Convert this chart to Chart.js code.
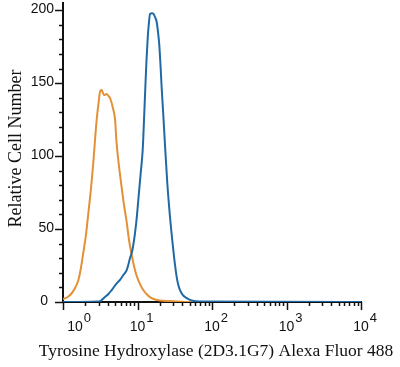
<!DOCTYPE html>
<html>
<head>
<meta charset="utf-8">
<script src="https://cdn.jsdelivr.net/npm/chart.js@4"></script>
<style>
  html, body { margin: 0; padding: 0; background: #fff; }
  canvas { display: block; }
</style>
</head>
<body>
<canvas id="chart" width="400" height="367"></canvas>
<script>
// fluorescence (x) and counts (y)
const blueX = [1, 2.86, 3.24, 3.66, 4.08, 4.5, 5.26, 5.82, 6.45, 7.16, 7.52, 7.93, 8.36, 8.78, 9.26, 9.76,
  10.25, 11.04, 11.74, 12.23, 12.73, 13.21, 13.71, 14.27, 14.72, 15.65, 16.4, 17.18, 18.1, 18.85, 19.61,
  20.35, 21.12, 22.2, 23.39, 25.11, 27.31, 30.24, 31.87, 33.59, 35.3, 37.2, 40.18, 43.41, 47.62, 53.4, 69, 10000];
const blueY = [0, 0.3, 1, 3.4, 5.5, 8.2, 12.8, 15.1, 18.5, 21.9, 25.4, 30.2, 33.6, 39.1, 47.3, 57.6,
  69.9, 88.4, 104.2, 124.8, 146.7, 165.9, 181, 192, 197.5, 197.9, 197.5, 195.4, 192, 185.1, 176.2,
  162.5, 146.7, 128.2, 107.6, 81.6, 58.3, 35.7, 25.4, 17.1, 11.7, 8.2, 5.1, 3.4, 2.1, 1, 0.3, 0];

const orangeX = [1, 1.13, 1.31, 1.45, 1.61, 1.74, 1.87, 2.04, 2.19, 2.38, 2.55, 2.69, 2.83, 3.0, 3.14, 3.31,
  3.44, 3.55, 3.86, 4.08, 4.27, 4.73, 5.0, 5.22, 5.52, 6.14, 6.59, 7.16, 7.69, 8.36, 8.97, 9.76,
  10.8, 11.96, 13.4, 14.7, 17.2, 20, 27.3, 50.7, 10000];
const orangeY = [2.1, 3.1, 6, 9.6, 15.1, 23.3, 33.6, 46.6, 61, 78.2, 95.3, 111.1, 124.8, 136.4, 144.2, 145.4,
  143.3, 141.9, 142.6, 141.2, 139.9, 132, 125, 110, 97.4, 78.2, 66.5, 54.8, 42.5, 32.2, 24.7, 17.8,
  12.3, 8.2, 5.1, 3.4, 1.7, 1, 0.7, 0, 0];

const yTickValues = [0, 50, 100, 150, 200];
const xDecades = [0, 1, 2, 3, 4];

const xTitle = 'Tyrosine Hydroxylase (2D3.1G7) Alexa Fluor 488';
const yTitle = 'Relative Cell Number';

const toPoints = (xs, ys) => xs.map((v, i) => ({ x: v, y: ys[i] }));

// tick marks, labels (10 with exponent) and axis titles, placed from the scales
const axisMarks = {
  id: 'axisMarks',
  afterDraw(chart) {
    const { ctx, scales: { x, y } } = chart;
    ctx.save();
    ctx.strokeStyle = '#111';
    ctx.fillStyle = '#111';
    ctx.lineWidth = 1.5;

    // y ticks, minor every 10
    for (let v = 0; v <= 200; v += 10) {
      const py = Math.round(y.getPixelForValue(v)) + 0.5;
      const len = v % 50 === 0 ? 8 : 4;
      ctx.beginPath();
      ctx.moveTo(x.left - len, py);
      ctx.lineTo(x.left, py);
      ctx.stroke();
    }
    ctx.font = '14px "Liberation Sans", Arial, sans-serif';
    ctx.textAlign = 'right';
    ctx.textBaseline = 'middle';
    yTickValues.forEach(v => {
      const py = y.getPixelForValue(v);
      ctx.fillText(String(v), v === 0 ? x.left - 15 : x.left - 9, py - 1);
    });

    // x ticks, log decades with 2..9 minor
    xDecades.forEach(d => {
      for (let m = 1; m <= 9; m++) {
        if (d === 4 && m > 1) break;
        const px = Math.round(x.getPixelForValue(m * Math.pow(10, d))) + 0.5;
        const len = m === 1 ? 8 : 4;
        ctx.beginPath();
        ctx.moveTo(px, y.bottom);
        ctx.lineTo(px, y.bottom + len);
        ctx.stroke();
      }
    });
    xDecades.forEach((d, i) => {
      const px = x.getPixelForValue(Math.pow(10, d)) + (i === 0 ? 12 : 0);
      ctx.font = '14px "Liberation Sans", Arial, sans-serif';
      ctx.textAlign = 'center';
      ctx.textBaseline = 'middle';
      ctx.fillText('10', px, y.bottom + 25);
      const w = ctx.measureText('10').width;
      ctx.font = '13px "Liberation Sans", Arial, sans-serif';
      ctx.textAlign = 'left';
      ctx.fillText(String(d), px + w / 2 + 1, y.bottom + 16);
    });

    // axis titles (drawn here so the x title is not squeezed to the plot width)
    ctx.font = '17.5px "Liberation Serif", "Times New Roman", serif';
    ctx.textAlign = 'center';
    ctx.textBaseline = 'alphabetic';
    ctx.fillText(xTitle, (x.left + x.right) / 2 + 4, 356);
    ctx.font = '18px "Liberation Serif", "Times New Roman", serif';
    ctx.translate(21, (y.top + y.bottom) / 2 - 4);
    ctx.rotate(-Math.PI / 2);
    ctx.fillText(yTitle, 0, 0);
    ctx.restore();
  }
};

new Chart(document.getElementById('chart'), {
  type: 'line',
  data: {
    datasets: [
      {
        data: toPoints(blueX, blueY),
        borderColor: '#1f6aa6',
        borderWidth: 2,
        pointRadius: 0,
        fill: false,
        cubicInterpolationMode: 'monotone'
      },
      {
        data: toPoints(orangeX, orangeY),
        borderColor: '#e39136',
        borderWidth: 2,
        pointRadius: 0,
        fill: false,
        cubicInterpolationMode: 'monotone'
      }
    ]
  },
  options: {
    responsive: false,
    animation: false,
    layout: { padding: { top: 3, right: 39, left: 0, bottom: 0 } },
    plugins: { legend: { display: false }, tooltip: { enabled: false } },
    scales: {
      x: {
        type: 'logarithmic',
        min: 1,
        max: 10000,
        grid: { display: false },
        border: { display: true, color: '#111', width: 2 },
        ticks: { display: false },
        title: { display: false, text: xTitle },
        afterFit: s => { s.height = 65; }
      },
      y: {
        type: 'linear',
        min: 0,
        max: 205,
        grid: { display: false },
        border: { display: true, color: '#111', width: 2 },
        ticks: { display: false },
        title: { display: false, text: yTitle },
        afterFit: s => { s.width = 63; }
      }
    }
  },
  plugins: [axisMarks]
});
</script>
</body>
</html>
